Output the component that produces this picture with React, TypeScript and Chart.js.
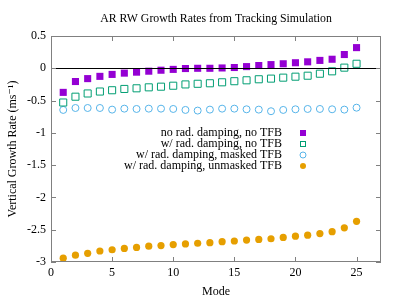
import React, { useEffect, useRef } from "react";
import { Chart, registerables } from "chart.js";

Chart.register(...registerables);

const modes = [1, 2, 3, 4, 5, 6, 7, 8, 9, 10, 11, 12, 13, 14, 15, 16, 17, 18, 19, 20, 21, 22, 23, 24, 25];
const noDampNoTFB = [-0.373, -0.205, -0.16, -0.125, -0.095, -0.075, -0.06, -0.045, -0.03, -0.017, -0.004, 0, 0, 0.005, 0.012, 0.026, 0.043, 0.057, 0.07, 0.086, 0.1, 0.122, 0.14, 0.213, 0.32];
const dampNoTFB = [-0.53, -0.44, -0.39, -0.36, -0.34, -0.32, -0.31, -0.295, -0.285, -0.27, -0.25, -0.24, -0.232, -0.217, -0.2, -0.186, -0.17, -0.16, -0.145, -0.13, -0.115, -0.084, -0.047, 0.01, 0.07];
const dampMaskedTFB = [-0.645, -0.615, -0.615, -0.615, -0.64, -0.625, -0.63, -0.625, -0.625, -0.63, -0.645, -0.655, -0.64, -0.625, -0.625, -0.635, -0.64, -0.665, -0.645, -0.635, -0.63, -0.63, -0.635, -0.64, -0.61];
const dampUnmaskedTFB = [-2.94, -2.895, -2.865, -2.83, -2.81, -2.79, -2.775, -2.755, -2.745, -2.73, -2.72, -2.71, -2.7, -2.685, -2.675, -2.66, -2.65, -2.64, -2.62, -2.6, -2.585, -2.56, -2.53, -2.47, -2.37];

const seriesLabels = [
  "no rad. damping, no TFB",
  "w/ rad. damping, no TFB",
  "w/ rad. damping, masked TFB",
  "w/ rad. damping, unmasked TFB",
];
const titleText = "AR RW Growth Rates from Tracking Simulation";
const xTitle = "Mode";
const yTitle = "Vertical Growth Rate (ms\u207B\u00B9)";

const FONT = '"Liberation Serif", "DejaVu Serif", serif';

const toPts = (vals: number[]) => vals.map((v, i) => ({ x: modes[i], y: v }));

const framePlugin = {
  id: "gnuFrame",
  afterDatasetsDraw(chart: any) {
    const { ctx, chartArea } = chart;
    const { left, right, top, bottom } = chartArea;
    const xs = chart.scales.x;
    const ys = chart.scales.y;
    ctx.save();
    // zero line
    const y0 = Math.round(ys.getPixelForValue(0)) + 0.5;
    ctx.strokeStyle = "#000";
    ctx.lineWidth = 1;
    ctx.beginPath();
    ctx.moveTo(left, y0);
    ctx.lineTo(right, y0);
    ctx.stroke();
    // border
    ctx.strokeStyle = "#808080";
    ctx.strokeRect(left + 0.5, top + 0.5, right - left - 1, bottom - top - 1);
    // ticks
    const tl = 5;
    ctx.beginPath();
    xs.ticks.forEach((t: any) => {
      const px = Math.round(xs.getPixelForValue(t.value)) + 0.5;
      ctx.moveTo(px, bottom);
      ctx.lineTo(px, bottom - tl);
      ctx.moveTo(px, top);
      ctx.lineTo(px, top + tl);
    });
    ys.ticks.forEach((t: any) => {
      const py = Math.round(ys.getPixelForValue(t.value)) + 0.5;
      ctx.moveTo(left, py);
      ctx.lineTo(left + tl, py);
      ctx.moveTo(right, py);
      ctx.lineTo(right - tl, py);
    });
    ctx.stroke();

    // legend
    ctx.font = "12px " + FONT;
    ctx.textAlign = "right";
    ctx.textBaseline = "middle";
    const textX = right - 99;
    const markX = right - 78;
    chart.data.datasets.forEach((ds: any, i: number) => {
      const ry = top + 97 + i * 11;
      ctx.fillStyle = "#000";
      ctx.fillText(ds.label, textX, ry);
      ctx.lineWidth = 1;
      ctx.strokeStyle = ds.borderColor;
      ctx.fillStyle = ds.backgroundColor;
      if (ds.pointStyle === "rect") {
        if (ds.legendFill) {
          ctx.fillRect(markX - 3, ry - 3, 6, 6);
        } else {
          ctx.strokeRect(markX - 2.5, ry - 2.5, 5, 5);
        }
      } else {
        ctx.beginPath();
        ctx.arc(markX, ry, 3, 0, Math.PI * 2);
        if (ds.legendFill) ctx.fill();
        else ctx.stroke();
      }
    });

    // title
    ctx.fillStyle = "#000";
    ctx.textAlign = "center";
    ctx.font = "11.8px " + FONT;
    ctx.fillText(titleText, (left + right) / 2, 19);
    ctx.restore();
  },
};

export default function App() {
  const ref = useRef<HTMLCanvasElement | null>(null);
  useEffect(() => {
    if (!ref.current) return;
    Chart.defaults.color = "#000";
    Chart.defaults.font.family = FONT;
    Chart.defaults.font.size = 12;
    const chart = new Chart(ref.current, {
      type: "scatter",
      data: {
        datasets: [
          {
            label: seriesLabels[0],
            data: toPts(noDampNoTFB),
            pointStyle: "rect",
            pointRadius: 5,
            backgroundColor: "#9400d3",
            borderColor: "#9400d3",
            borderWidth: 0,
            legendFill: true,
          } as any,
          {
            label: seriesLabels[1],
            data: toPts(dampNoTFB),
            pointStyle: "rect",
            pointRadius: 5,
            backgroundColor: "rgba(0,0,0,0)",
            borderColor: "#009e73",
            borderWidth: 1,
            legendFill: false,
          } as any,
          {
            label: seriesLabels[2],
            data: toPts(dampMaskedTFB),
            pointStyle: "circle",
            pointRadius: 3.5,
            backgroundColor: "rgba(0,0,0,0)",
            borderColor: "#56b4e9",
            borderWidth: 1,
            legendFill: false,
          } as any,
          {
            label: seriesLabels[3],
            data: toPts(dampUnmaskedTFB),
            pointStyle: "circle",
            pointRadius: 3.6,
            backgroundColor: "#e69f00",
            borderColor: "#e69f00",
            borderWidth: 0,
            legendFill: true,
          } as any,
        ],
      },
      options: {
        responsive: false,
        animation: false,
        layout: { padding: { left: 0, right: 18, top: 36, bottom: 0 } },
        plugins: {
          legend: { display: false },
          title: { display: false },
          tooltip: { enabled: false },
        },
        scales: {
          x: {
            type: "linear",
            min: 0,
            max: 27,
            grid: { display: false, drawTicks: false },
            border: { display: false },
            ticks: { stepSize: 5, includeBounds: false, padding: 4, maxRotation: 0 },
            title: { display: true, text: xTitle, padding: { top: 0, bottom: 0 } },
            afterFit: (s: any) => {
              s.height = 37;
            },
          },
          y: {
            type: "linear",
            min: -3,
            max: 0.5,
            grid: { display: false, drawTicks: false },
            border: { display: false },
            ticks: { stepSize: 0.5, padding: 5, callback: (v: any) => String(Number(v)) },
            title: { display: true, text: yTitle, padding: { top: 6, bottom: 0 } },
            afterFit: (s: any) => {
              s.width = 51;
            },
          },
        },
      } as any,
      plugins: [framePlugin],
    });
    return () => chart.destroy();
  }, []);
  return (
    <div style={{ position: "fixed", left: 0, top: 0, width: 399, height: 299, background: "#fff" }}>
      <canvas ref={ref} width={399} height={299} />
    </div>
  );
}
